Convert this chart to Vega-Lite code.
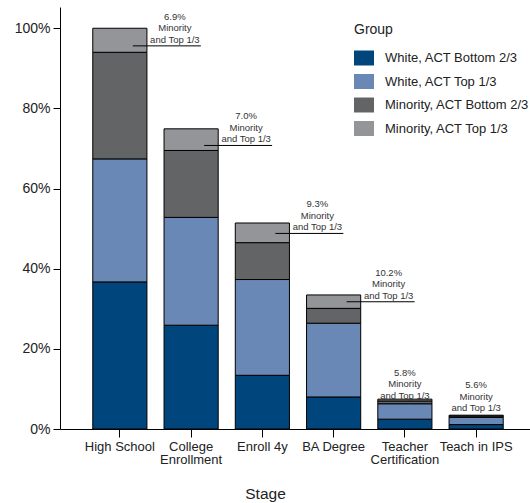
{
  "$schema": "https://vega.github.io/schema/vega-lite/v6.json",
  "autosize": {"type": "none"},
  "width": 470,
  "height": 422,
  "padding": {"left": 60, "top": 7, "right": 0, "bottom": 74},
  "config": {
    "view": {"stroke": null},
    "font": "Liberation Sans",
    "axis": {"domainColor": "black", "tickColor": "black", "labelColor": "#222", "titleColor": "#222", "grid": false}
  },
  "datasets": {
    "bars": [
      {"Stage": "High School", "Group": "White, ACT Bottom 2/3", "pct": 0.367},
      {"Stage": "High School", "Group": "White, ACT Top 1/3", "pct": 0.307},
      {"Stage": "High School", "Group": "Minority, ACT Bottom 2/3", "pct": 0.266},
      {"Stage": "High School", "Group": "Minority, ACT Top 1/3", "pct": 0.060},
      {"Stage": "College Enrollment", "Group": "White, ACT Bottom 2/3", "pct": 0.259},
      {"Stage": "College Enrollment", "Group": "White, ACT Top 1/3", "pct": 0.269},
      {"Stage": "College Enrollment", "Group": "Minority, ACT Bottom 2/3", "pct": 0.167},
      {"Stage": "College Enrollment", "Group": "Minority, ACT Top 1/3", "pct": 0.054},
      {"Stage": "Enroll 4y", "Group": "White, ACT Bottom 2/3", "pct": 0.134},
      {"Stage": "Enroll 4y", "Group": "White, ACT Top 1/3", "pct": 0.239},
      {"Stage": "Enroll 4y", "Group": "Minority, ACT Bottom 2/3", "pct": 0.092},
      {"Stage": "Enroll 4y", "Group": "Minority, ACT Top 1/3", "pct": 0.049},
      {"Stage": "BA Degree", "Group": "White, ACT Bottom 2/3", "pct": 0.080},
      {"Stage": "BA Degree", "Group": "White, ACT Top 1/3", "pct": 0.184},
      {"Stage": "BA Degree", "Group": "Minority, ACT Bottom 2/3", "pct": 0.037},
      {"Stage": "BA Degree", "Group": "Minority, ACT Top 1/3", "pct": 0.0335},
      {"Stage": "Teacher Certification", "Group": "White, ACT Bottom 2/3", "pct": 0.0245},
      {"Stage": "Teacher Certification", "Group": "White, ACT Top 1/3", "pct": 0.0385},
      {"Stage": "Teacher Certification", "Group": "Minority, ACT Bottom 2/3", "pct": 0.007},
      {"Stage": "Teacher Certification", "Group": "Minority, ACT Top 1/3", "pct": 0.0045},
      {"Stage": "Teach in IPS", "Group": "White, ACT Bottom 2/3", "pct": 0.011},
      {"Stage": "Teach in IPS", "Group": "White, ACT Top 1/3", "pct": 0.018},
      {"Stage": "Teach in IPS", "Group": "Minority, ACT Bottom 2/3", "pct": 0.0035},
      {"Stage": "Teach in IPS", "Group": "Minority, ACT Top 1/3", "pct": 0.002}
    ],
    "notes": [
      {"Stage": "High School", "note": "6.9%\nMinority\nand Top 1/3", "at": 0.956, "pointer": true},
      {"Stage": "College Enrollment", "note": "7.0%\nMinority\nand Top 1/3", "at": 0.7075, "pointer": true},
      {"Stage": "Enroll 4y", "note": "9.3%\nMinority\nand Top 1/3", "at": 0.488, "pointer": true},
      {"Stage": "BA Degree", "note": "10.2%\nMinority\nand Top 1/3", "at": 0.3175, "pointer": true},
      {"Stage": "Teacher Certification", "note": "5.8%\nMinority\nand Top 1/3", "at": 0.068, "pointer": false},
      {"Stage": "Teach in IPS", "note": "5.6%\nMinority\nand Top 1/3", "at": 0.037, "pointer": false}
    ]
  },
  "layer": [
    {
      "data": {"name": "bars"},
      "transform": [
        {"calculate": "indexof(['White, ACT Bottom 2/3', 'White, ACT Top 1/3', 'Minority, ACT Bottom 2/3', 'Minority, ACT Top 1/3'], datum.Group)", "as": "stackIndex"}
      ],
      "mark": {"type": "bar", "stroke": "black", "strokeWidth": 1},
      "encoding": {
        "x": {
          "field": "Stage", "type": "nominal",
          "sort": ["High School", "College Enrollment", "Enroll 4y", "BA Degree", "Teacher Certification", "Teach in IPS"],
          "scale": {"range": [0, 476], "paddingInner": 0.24, "paddingOuter": 0.46},
          "axis": {
            "labelAngle": 0, "labelFontSize": 13, "labelPadding": 3, "tickSize": 8, "labelLineHeight": 13,
            "labelExpr": "datum.label == 'College Enrollment' ? ['College', 'Enrollment'] : datum.label == 'Teacher Certification' ? ['Teacher', 'Certification'] : datum.label",
            "title": "Stage", "titleFontSize": 15.5, "titleFontWeight": "normal", "titleX": 205, "titleY": 64, "titleBaseline": "middle"
          }
        },
        "y": {
          "field": "pct", "type": "quantitative", "stack": "zero",
          "scale": {"domain": [0, 1.053], "nice": false},
          "axis": {"values": [0, 0.2, 0.4, 0.6, 0.8, 1], "format": ".0%", "labelFontSize": 14, "tickSize": 7, "labelPadding": 3, "title": null}
        },
        "color": {
          "field": "Group", "type": "nominal",
          "scale": {
            "domain": ["White, ACT Bottom 2/3", "White, ACT Top 1/3", "Minority, ACT Bottom 2/3", "Minority, ACT Top 1/3"],
            "range": ["#00457c", "#6a88b6", "#636466", "#939598"]
          },
          "legend": {
            "orient": "none", "legendX": 294, "legendY": 16, "padding": 0,
            "title": "\u00a0\u00a0\u00a0Group", "titleFontSize": 14, "titleFontWeight": "normal", "titleColor": "#222", "titlePadding": 11,
            "symbolType": "M-1,-0.75H1V0.75H-1Z", "symbolSize": 400, "symbolStrokeWidth": 0, "symbolOpacity": 1,
            "labelFontSize": 13, "labelColor": "#222", "labelOffset": 11, "rowPadding": 5.5
          }
        },
        "order": {"field": "stackIndex", "type": "quantitative"}
      }
    },
    {
      "mark": {"type": "rule", "color": "black", "strokeWidth": 1},
      "encoding": {"y": {"datum": 1.053}}
    },
    {
      "data": {"name": "notes"},
      "transform": [{"filter": "datum.pointer"}],
      "mark": {"type": "rule", "color": "black", "strokeWidth": 1, "xOffset": 13, "x2Offset": 81},
      "encoding": {
        "x": {"field": "Stage", "type": "nominal", "sort": ["High School", "College Enrollment", "Enroll 4y", "BA Degree", "Teacher Certification", "Teach in IPS"]},
        "x2": {"field": "Stage"},
        "y": {"field": "at", "type": "quantitative"}
      }
    },
    {
      "data": {"name": "notes"},
      "transform": [{"filter": "datum.pointer"}],
      "mark": {"type": "text", "fontSize": 9.5, "lineHeight": 11.5, "lineBreak": "\n", "align": "center", "baseline": "bottom", "dx": 55, "dy": -24, "color": "#333"},
      "encoding": {
        "x": {"field": "Stage", "type": "nominal", "sort": ["High School", "College Enrollment", "Enroll 4y", "BA Degree", "Teacher Certification", "Teach in IPS"]},
        "y": {"field": "at", "type": "quantitative"},
        "text": {"field": "note"}
      }
    },
    {
      "data": {"name": "notes"},
      "transform": [{"filter": "!datum.pointer"}],
      "mark": {"type": "text", "fontSize": 9.5, "lineHeight": 11.5, "lineBreak": "\n", "align": "center", "baseline": "bottom", "dy": -24, "color": "#333"},
      "encoding": {
        "x": {"field": "Stage", "type": "nominal", "sort": ["High School", "College Enrollment", "Enroll 4y", "BA Degree", "Teacher Certification", "Teach in IPS"]},
        "y": {"field": "at", "type": "quantitative"},
        "text": {"field": "note"}
      }
    }
  ]
}
